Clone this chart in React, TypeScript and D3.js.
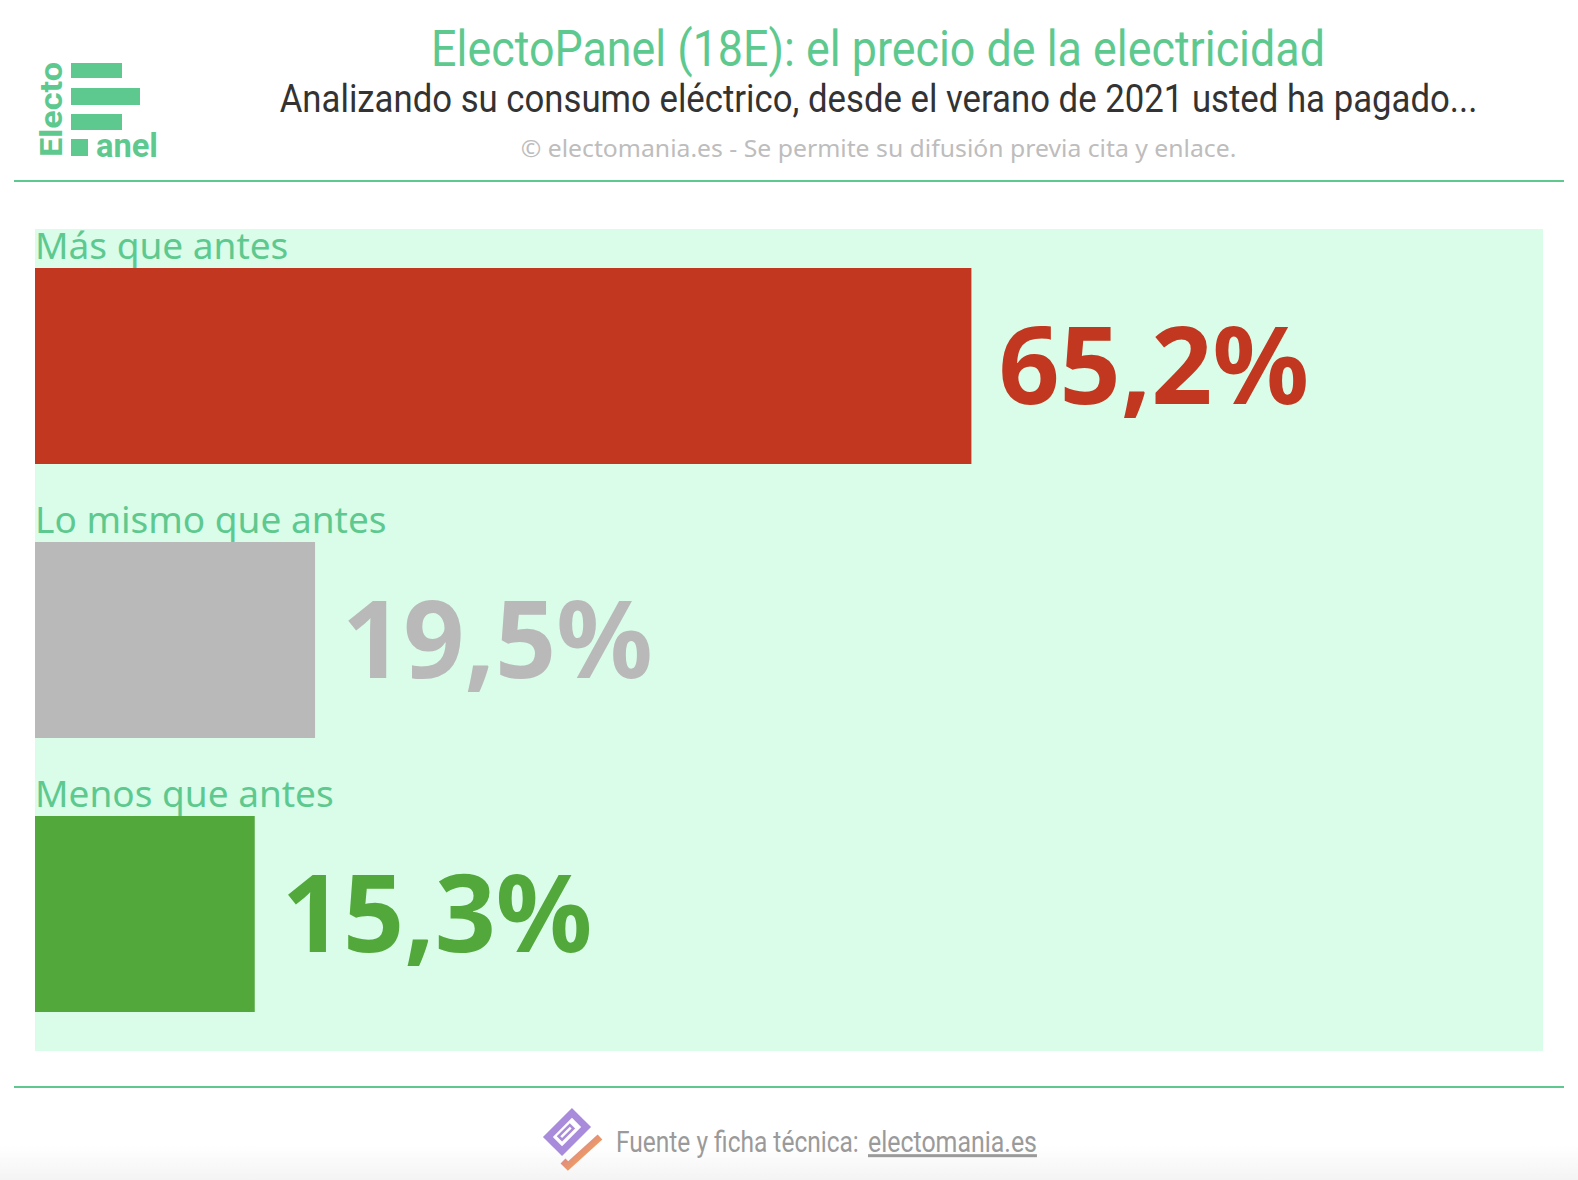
import { useEffect, useRef } from 'react';
import * as d3 from 'd3';

const categories = ['Más que antes', 'Lo mismo que antes', 'Menos que antes'];
const values = [65.2, 19.5, 15.3];
const valueLabels = ['65,2%', '19,5%', '15,3%'];
const barColors = ['#c1371f', '#b9b9b9', '#52a83a'];

const W = 1578;
const H = 1180;
const GREEN = '#5ec98f';

// squeeze a text horizontally to a target width (condensed look without a condensed font)
function fitText(
  parent: d3.Selection<any, unknown, null, undefined>,
  str: string, x: number, y: number, width: number, anchor: string
) {
  const g = parent.append('g');
  const t = g.append('text').attr('x', 0).attr('y', 0).attr('text-anchor', anchor).text(str);
  const w = (t.node() as SVGTextElement).getComputedTextLength() || width;
  g.attr('transform', `translate(${x},${y}) scale(${width / w},1)`);
  return t;
}

export default function App() {
  const svgRef = useRef<SVGSVGElement>(null);

  useEffect(() => {
    if (!svgRef.current) return;
    const svg = d3.select(svgRef.current);
    svg.selectAll('*').remove();

    const defs = svg.append('defs');
    const foot = defs.append('linearGradient').attr('id', 'footBg')
      .attr('x1', 0).attr('y1', 0).attr('x2', 0).attr('y2', 1);
    foot.append('stop').attr('offset', '0%').attr('stop-color', '#ffffff');
    foot.append('stop').attr('offset', '100%').attr('stop-color', '#f4f4f4');

    const iconGrad = defs.append('linearGradient').attr('id', 'iconGrad')
      .attr('gradientUnits', 'userSpaceOnUse')
      .attr('x1', 550).attr('y1', 1110).attr('x2', 598).attr('y2', 1164);
    [['0%', '#a98bdc'], ['35%', '#7fa6d6'], ['60%', '#d98a8e'], ['80%', '#ee9a62'], ['100%', '#e9d86a']]
      .forEach(([o, c]) => iconGrad.append('stop').attr('offset', o).attr('stop-color', c));

    // fondo
    svg.append('rect').attr('width', W).attr('height', H).attr('fill', '#fff');
    svg.append('rect').attr('x', 0).attr('y', 1145).attr('width', W).attr('height', 35)
      .attr('fill', 'url(#footBg)');

    // logo ElectoPanel
    const logo = svg.append('g').attr('fill', GREEN)
      .attr('font-family', 'Roboto, sans-serif').attr('font-weight', 700);
    logo.append('rect').attr('x', 71).attr('y', 63).attr('width', 51).attr('height', 15);
    logo.append('rect').attr('x', 71).attr('y', 88).attr('width', 69).attr('height', 17);
    logo.append('rect').attr('x', 71).attr('y', 114).attr('width', 51).attr('height', 16);
    logo.append('rect').attr('x', 71).attr('y', 139).attr('width', 17).attr('height', 17);
    const rot = logo.append('g').attr('transform', 'translate(62,157) rotate(-90)').attr('font-size', 32);
    fitText(rot, 'Electo', 0, 0, 95, 'start');
    const anel = logo.append('g').attr('font-size', 34);
    fitText(anel, 'anel', 96, 157, 62, 'start');

    // cabecera
    const title = svg.append('g').attr('font-family', 'Roboto, sans-serif').attr('font-size', 50).attr('fill', GREEN);
    fitText(title, 'ElectoPanel (18E): el precio de la electricidad', 878, 66, 894, 'middle');
    const sub = svg.append('g').attr('font-family', 'Roboto, sans-serif').attr('font-size', 39).attr('fill', '#333333');
    fitText(sub, 'Analizando su consumo eléctrico, desde el verano de 2021 usted ha pagado...', 878.5, 112, 1198, 'middle');
    const credit = svg.append('g').attr('font-family', '"Noto Sans", sans-serif').attr('font-size', 24).attr('fill', '#bdbdbd');
    fitText(credit, '© electomania.es - Se permite su difusión previa cita y enlace.', 878.5, 157, 716, 'middle');

    svg.append('line').attr('x1', 14).attr('x2', 1564).attr('y1', 181).attr('y2', 181)
      .attr('stroke', GREEN).attr('stroke-width', 2);
    svg.append('line').attr('x1', 14).attr('x2', 1564).attr('y1', 1087).attr('y2', 1087)
      .attr('stroke', GREEN).attr('stroke-width', 2);

    // escalas
    const x = d3.scaleLinear().domain([0, 105]).range([35, 1543]);
    const y = d3.scaleBand<string>().domain(categories).range([229, 1051]);
    const barTop = 39;
    const barH = 196;

    svg.append('rect')
      .attr('x', x(0)).attr('y', 229)
      .attr('width', x(105) - x(0)).attr('height', 1051 - 229)
      .attr('fill', '#d9fde9');

    const rows = svg.append('g').selectAll('g')
      .data(categories)
      .join('g')
      .attr('transform', d => `translate(0,${y(d)})`);

    rows.append('text')
      .attr('x', x(0)).attr('y', barTop - 9)
      .attr('font-family', '"Noto Sans", sans-serif').attr('font-size', 37)
      .attr('fill', GREEN)
      .text(d => d);

    rows.append('rect')
      .attr('x', x(0)).attr('y', barTop)
      .attr('width', (_, i) => x(values[i]) - x(0))
      .attr('height', barH)
      .attr('fill', (_, i) => barColors[i]);

    rows.append('text')
      .attr('x', (_, i) => x(values[i]) + 27)
      .attr('y', barTop + barH / 2 + 38)
      .attr('font-family', '"Noto Sans", sans-serif').attr('font-weight', 700)
      .attr('font-size', 107)
      .attr('fill', (_, i) => barColors[i])
      .text((_, i) => valueLabels[i]);

    // pie
    const icon = svg.append('g').attr('fill', 'none').attr('stroke', 'url(#iconGrad)');
    icon.append('rect')
      .attr('transform', 'translate(567,1132) rotate(-45)')
      .attr('x', -17).attr('y', -10).attr('width', 34).attr('height', 20)
      .attr('stroke-width', 7);
    icon.append('rect')
      .attr('transform', 'translate(567,1132) rotate(-45)')
      .attr('x', -9).attr('y', -3).attr('width', 16).attr('height', 5)
      .attr('stroke-width', 2.5);
    icon.append('path')
      .attr('d', 'M600,1137 L568,1166 L563,1161')
      .attr('stroke-width', 7).attr('stroke-linejoin', 'miter');

    const footer = svg.append('g').attr('font-family', 'Roboto, sans-serif').attr('font-size', 30).attr('fill', '#9a9a9a');
    fitText(footer, 'Fuente y ficha técnica:', 616, 1152, 243, 'start');
    fitText(footer, 'electomania.es', 868, 1152, 169, 'start').attr('text-decoration', 'underline');
  }, []);

  return (
    <div style={{ position: 'fixed', left: 0, top: 0, width: W, height: H }}>
      <svg ref={svgRef} width={W} height={H}></svg>
    </div>
  );
}
